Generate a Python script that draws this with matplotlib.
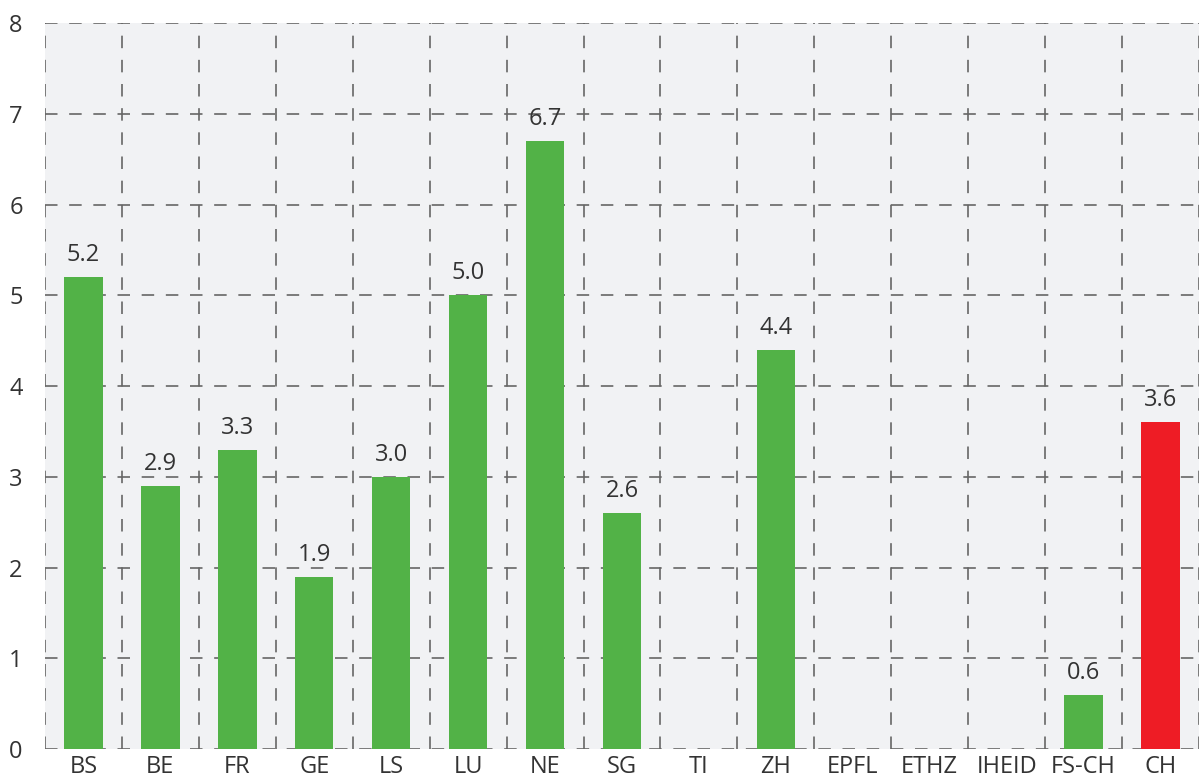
import matplotlib
matplotlib.use('Agg')
import matplotlib.pyplot as plt
import numpy as np

categories = ['BS', 'BE', 'FR', 'GE', 'LS', 'LU', 'NE', 'SG', 'TI', 'ZH',
              'EPFL', 'ETHZ', 'IHEID', 'FS-CH', 'CH']
values = [5.2, 2.9, 3.3, 1.9, 3.0, 5.0, 6.7, 2.6, None, 4.4,
          None, None, None, 0.6, 3.6]

plt.rcParams['font.family'] = ['Open Sans', 'DejaVu Sans']

fig = plt.figure(figsize=(11.99, 7.82), dpi=100)
ax = fig.add_axes([0.0375, 0.042, 0.9625, 0.9286])
ax.set_facecolor('#f1f2f4')

x = np.arange(len(categories))
for i, v in enumerate(values):
    if v is None:
        continue
    color = '#ee1c25' if categories[i] == 'CH' else '#52b247'
    ax.bar(i, v, width=0.5, color=color, zorder=3)
    ax.text(i, v + 0.11, f'{v:.1f}', ha='center', va='bottom',
            fontsize=17, color='#333333', zorder=4)

ax.set_xlim(-0.5, len(categories) - 0.5)
ax.set_ylim(0, 8)
ax.set_xticks(x)
ax.set_xticklabels(categories)
ax.set_xticks(np.arange(-0.5, len(categories), 1), minor=True)
ax.set_yticks(range(0, 9))

for s in ax.spines.values():
    s.set_visible(False)

dash = (0, (7.5, 7))
ax.grid(which='minor', axis='x', color='#666666', linestyle=dash, linewidth=1.2, zorder=1)
ax.grid(which='major', axis='y', color='#666666', linestyle=dash, linewidth=1.2, zorder=1)
ax.grid(which='major', axis='x', visible=False)

ax.tick_params(axis='both', which='both', length=0, labelsize=17, colors='#333333')
ax.tick_params(axis='x', pad=4)
ax.tick_params(axis='y', pad=16)

fig.savefig('out.png', dpi=100)
